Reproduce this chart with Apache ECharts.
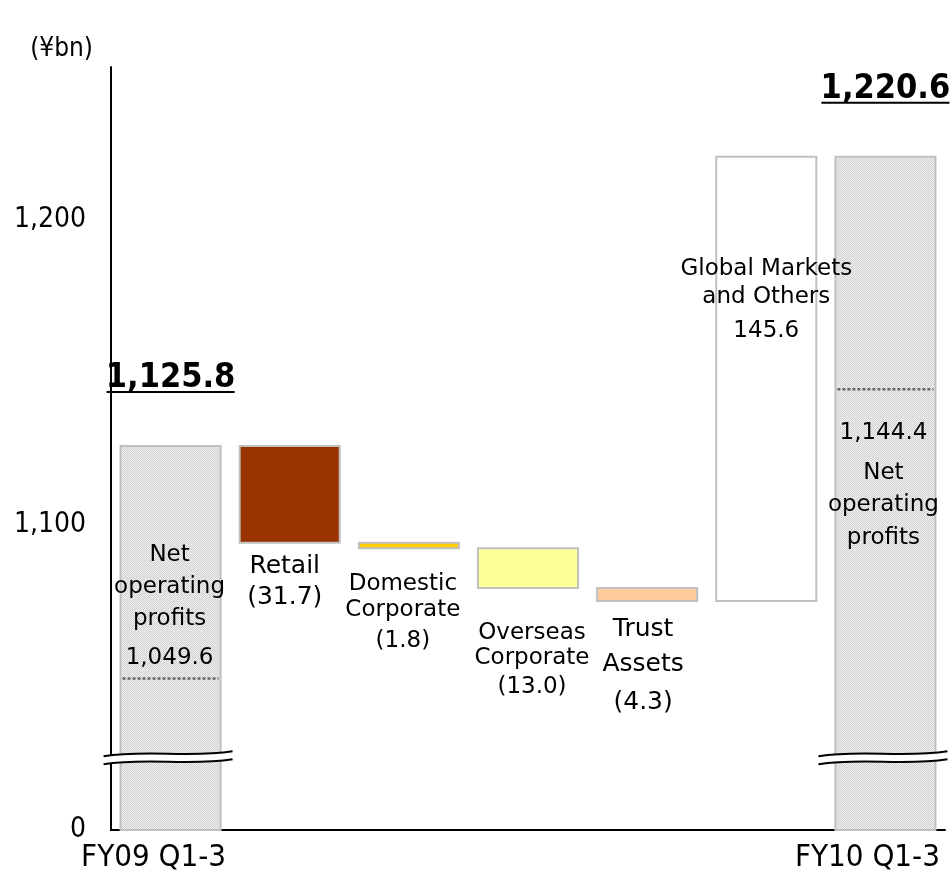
<!DOCTYPE html>
<html>
<head>
<meta charset="utf-8">
<script src="https://cdn.jsdelivr.net/npm/echarts@6/dist/echarts.min.js"></script>
<style>
  html, body { margin: 0; padding: 0; background: #ffffff; }
  #chart { width: 951px; height: 887px; }
</style>
</head>
<body>
<div id="chart"></div>
<script>
// ---- data ----
const categories = ['FY09 Q1-3', 'Retail', 'Domestic Corporate', 'Overseas Corporate', 'Trust Assets', 'Global Markets and Others', 'FY10 Q1-3'];
const startTotal = 1125.8;
const changes = [-31.7, -1.8, -13.0, -4.3, 145.6];
const endTotal = 1220.6;
const netOperatingProfits = [1049.6, 1144.4];
const yTicks = [1000, 1100, 1200];          // the lowest tick stands for 0 on the broken axis
const tickLabels = ['0', '1,100', '1,200'];
const totalLabels = ['1,125.8', '1,220.6'];
const barLabels = [
  ['Net', 'operating', 'profits', '1,049.6'],
  ['Retail', '(31.7)'],
  ['Domestic', 'Corporate', '(1.8)'],
  ['Overseas', 'Corporate', '(13.0)'],
  ['Trust', 'Assets', '(4.3)'],
  ['Global Markets', 'and Others', '145.6'],
  ['1,144.4', 'Net', 'operating', 'profits']
];
const axisBreakValue = 1023.5;

// ---- styling ----
const AXIS_FONT = "'DejaVu Sans Condensed', 'DejaVu Sans', sans-serif";
const LABEL_FONT = "'DejaVu Sans', sans-serif";
const Y_MIN = 1000, Y_MAX = 1250;

function makeDotPattern() {
  const c = document.createElement('canvas');
  c.width = 2; c.height = 2;
  const g = c.getContext('2d');
  g.fillStyle = '#eeeeee'; g.fillRect(0, 0, 2, 2);
  g.fillStyle = '#d2d2d2'; g.fillRect(0, 0, 1, 1); g.fillRect(1, 1, 1, 1);
  return { image: c, repeat: 'repeat' };
}
const totalFill = makeDotPattern();
const fills = [totalFill, '#993300', '#ffcc00', '#ffff99', '#ffcc99', '#ffffff', totalFill];

// label placement relative to bar anchors (pixels)
const labelLayout = [
  { anchor: 'net',    dx: -1, dys: [-124, -92, -60, -21], size: 23 },
  { anchor: 'bottom', dx: -5, dys: [24, 55],              size: 25 },
  { anchor: 'bottom', dx: -6, dys: [36, 62, 93],          size: 23 },
  { anchor: 'bottom', dx: 4,  dys: [45, 70, 99],          size: 23 },
  { anchor: 'bottom', dx: -4, dys: [28, 63, 101],         size: 25 },
  { anchor: 'top',    dx: 0,  dys: [112, 140, 174],       size: 23 },
  { anchor: 'net',    dx: -2, dys: [44, 84, 116, 149],    size: 23 }
];
const xLabelDx = { 0: -17, 6: -18 };

// ---- waterfall rows: [index, low, high] ----
const rows = [];
rows.push([0, Y_MIN, startTotal]);
let running = startTotal;
changes.forEach((c, k) => {
  const next = +(running + c).toFixed(1);
  rows.push([k + 1, Math.min(running, next), Math.max(running, next)]);
  running = next;
});
rows.push([categories.length - 1, Y_MIN, endTotal]);

const lastIdx = categories.length - 1;

function breakMark(x0, x1, y) {
  const L = x1 - x0;
  const g = 8;
  const p = (dy) => [
    [x0, y + 2 + dy], [x0 + L / 3, y - 5 + dy], [x0 + 2 * L / 3, y + 4 + dy], [x1, y - 3 + dy]
  ];
  const a = p(-g / 2), b = p(g / 2);
  const pathData =
    `M${a[0][0]} ${a[0][1]} C${a[1][0]} ${a[1][1]} ${a[2][0]} ${a[2][1]} ${a[3][0]} ${a[3][1]} ` +
    `L${b[3][0]} ${b[3][1]} C${b[2][0]} ${b[2][1]} ${b[1][0]} ${b[1][1]} ${b[0][0]} ${b[0][1]} Z`;
  const curve = (q) => ({
    type: 'bezierCurve',
    shape: { x1: q[0][0], y1: q[0][1], cpx1: q[1][0], cpy1: q[1][1], cpx2: q[2][0], cpy2: q[2][1], x2: q[3][0], y2: q[3][1] },
    style: { stroke: '#000', lineWidth: 2, fill: null }
  });
  return [
    { type: 'path', shape: { pathData: pathData }, style: { fill: '#ffffff', stroke: null } },
    curve(a), curve(b)
  ];
}

// bars, net-profit markers and axis-break marks
function renderBar(params, api) {
  const i = api.value(0), lo = api.value(1), hi = api.value(2);
  const top = api.coord([i, hi]);
  const bot = api.coord([i, lo]);
  const w = api.size([1, 0])[0] * 0.84;
  const cx = top[0];
  const children = [{
    type: 'rect',
    shape: { x: cx - w / 2, y: top[1], width: w, height: bot[1] - top[1] },
    style: { fill: fills[i], stroke: '#c0c0c0', lineWidth: 2 }
  }];
  if (i === 0 || i === lastIdx) {
    const netY = api.coord([i, netOperatingProfits[i === 0 ? 0 : 1]])[1];
    children.push({
      type: 'line',
      shape: { x1: cx - w / 2 + 2, y1: netY, x2: cx + w / 2 - 2, y2: netY },
      style: { stroke: '#666666', lineWidth: 2.5, lineDash: [3, 2] }
    });
    const by = api.coord([i, axisBreakValue])[1];
    children.push(...breakMark(cx - 67, cx + 62, by));
  }
  return { type: 'group', children: children };
}

// all text drawn above the bars
function renderLabels(params, api) {
  const i = api.value(0), lo = api.value(1), hi = api.value(2);
  const top = api.coord([i, hi]);
  const bot = api.coord([i, lo]);
  const cx = top[0];
  const children = [];
  let netY = null;
  if (i === 0 || i === lastIdx) {
    netY = api.coord([i, netOperatingProfits[i === 0 ? 0 : 1]])[1];
    children.push({
      type: 'text',
      style: { text: totalLabels[i === 0 ? 0 : 1], x: cx, y: top[1] - 68, align: 'center', verticalAlign: 'middle',
               font: `bold 34px ${AXIS_FONT}`, fill: '#000' }
    });
    children.push({
      type: 'line',
      shape: { x1: cx - 64, y1: top[1] - 54, x2: cx + 64, y2: top[1] - 54 },
      style: { stroke: '#000', lineWidth: 2 }
    });
    children.push({
      type: 'text',
      style: { text: categories[i], x: cx + xLabelDx[i], y: 858, align: 'center', verticalAlign: 'middle',
               font: `31px ${AXIS_FONT}`, fill: '#000' }
    });
  }
  const lay = labelLayout[i];
  const anchorY = lay.anchor === 'net' ? netY : (lay.anchor === 'top' ? top[1] : bot[1]);
  barLabels[i].forEach((t, k) => {
    children.push({
      type: 'text',
      style: { text: t, x: cx + lay.dx, y: anchorY + lay.dys[k], align: 'center', verticalAlign: 'middle',
               font: `${lay.size}px ${LABEL_FONT}`, fill: '#000' }
    });
  });
  return { type: 'group', children: children };
}

const chart = echarts.init(document.getElementById('chart'), null, { renderer: 'canvas' });
chart.setOption({
  animation: false,
  backgroundColor: '#ffffff',
  grid: { left: 111, right: 6, top: 67, bottom: 57, containLabel: false },
  xAxis: {
    type: 'category',
    data: categories,
    axisLine: { show: true, lineStyle: { color: '#000', width: 2 } },
    axisTick: { show: false },
    axisLabel: { show: false },
    splitLine: { show: false }
  },
  yAxis: {
    type: 'value',
    min: Y_MIN,
    max: Y_MAX,
    interval: 100,
    name: '(¥bn)',
    nameLocation: 'end',
    nameGap: 5,
    nameTextStyle: { fontFamily: AXIS_FONT, fontSize: 26, color: '#000', align: 'right', padding: [0, 18, 0, 0] },
    axisLine: { show: true, lineStyle: { color: '#000', width: 2 } },
    axisTick: { show: false },
    splitLine: { show: false },
    axisLabel: {
      margin: 25,
      fontFamily: AXIS_FONT,
      fontSize: 28,
      color: '#000',
      showMaxLabel: false,
      formatter: (v) => { const k = yTicks.indexOf(v); return k >= 0 ? tickLabels[k] : ''; }
    }
  },
  series: [{
    type: 'custom',
    name: 'Waterfall',
    renderItem: renderBar,
    encode: { x: 0, y: [1, 2] },
    data: rows,
    clip: false,
    z: 2
  }, {
    type: 'custom',
    name: 'Labels',
    renderItem: renderLabels,
    encode: { x: 0, y: [1, 2] },
    data: rows,
    clip: false,
    silent: true,
    z: 5
  }]
});
</script>
</body>
</html>
